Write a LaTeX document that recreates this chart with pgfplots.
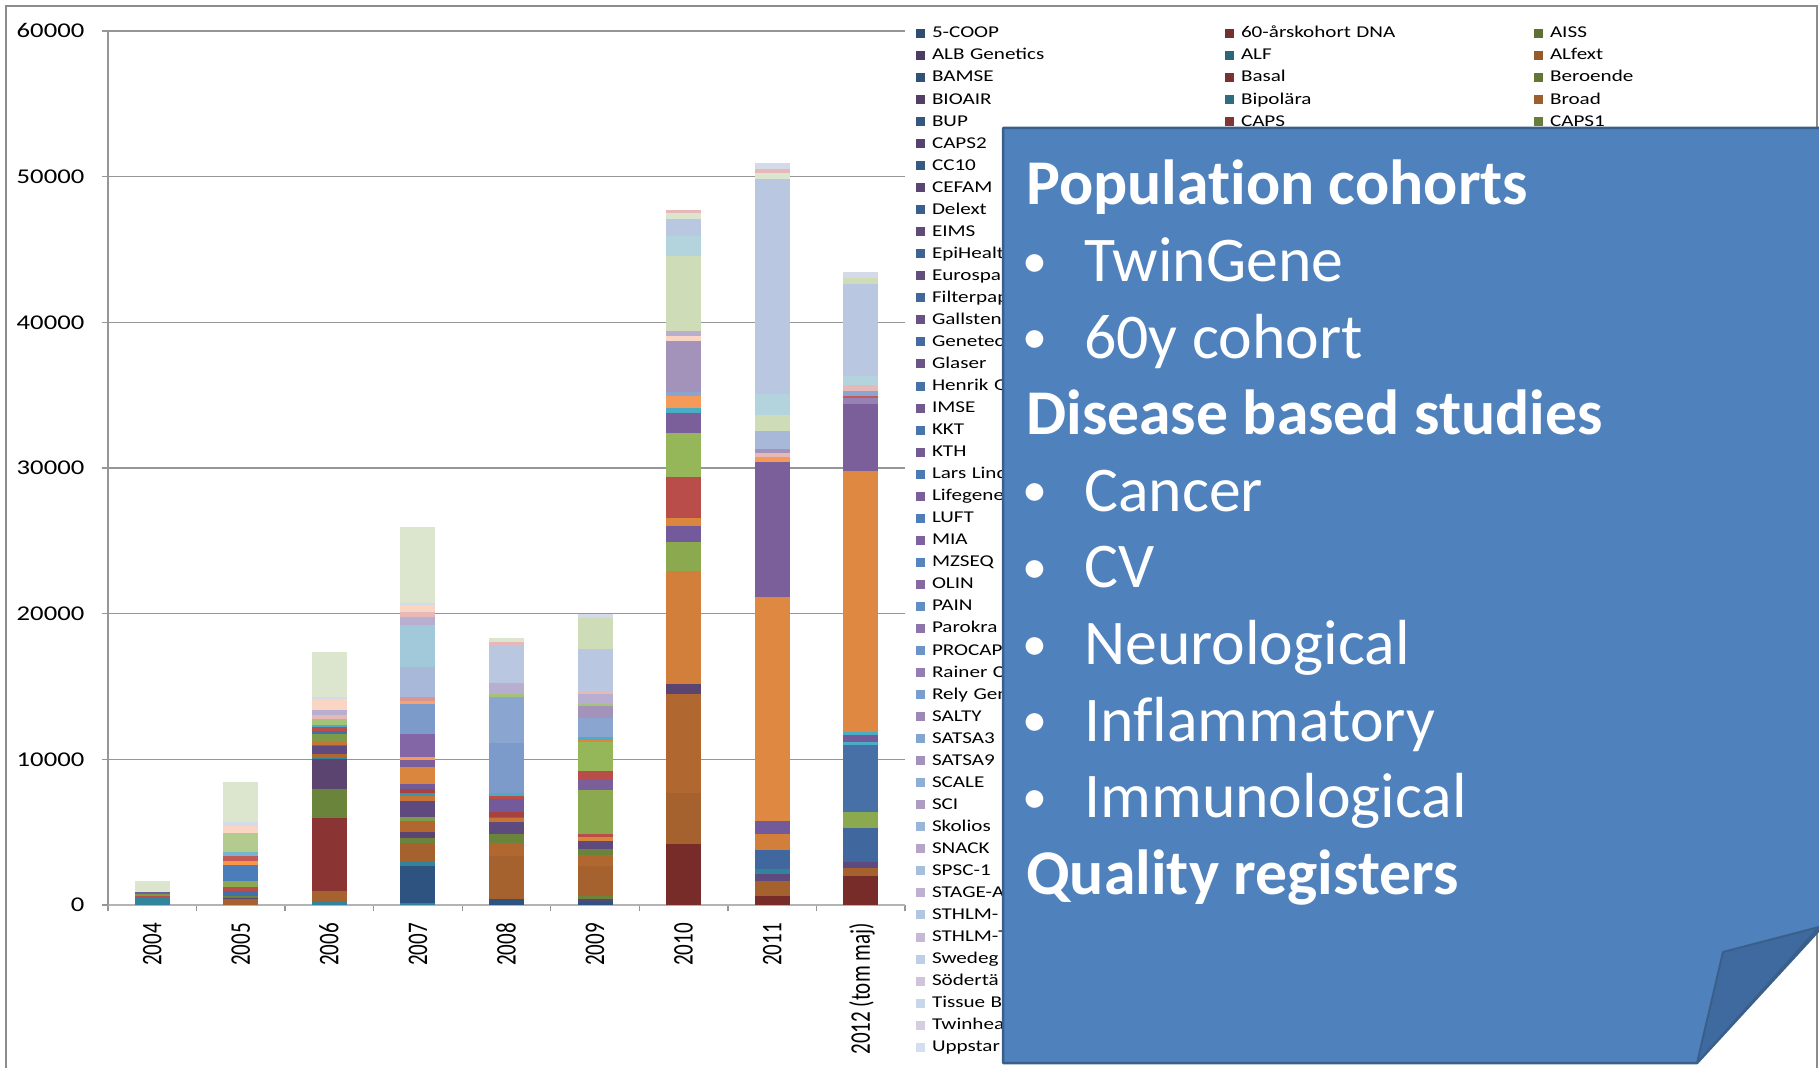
\documentclass[border=0pt]{standalone}
\usepackage{pgfplots}
\pgfplotsset{compat=1.18}
\usepackage{fontspec}
\setmainfont{Carlito}[Ligatures=NoCommon]
\newfontfamily\tickfont[FakeStretch=1.27]{Carlito}
\newfontfamily\xlabfont[FakeStretch=0.74]{Carlito}
\newfontfamily\legfont[FakeStretch=1.28]{Carlito}

% Excel accents
\definecolor{accB}{HTML}{4F81BD}
\definecolor{accR}{HTML}{C0504D}
\definecolor{accG}{HTML}{9BBB59}
\definecolor{accP}{HTML}{8064A2}
\definecolor{accA}{HTML}{4BACC6}
\definecolor{accO}{HTML}{F79646}
% segment colours
\definecolor{DR}{HTML}{772C2A}
\definecolor{DRb}{HTML}{8A3533}
\definecolor{BR}{HTML}{A5622F}
\definecolor{BRb}{HTML}{B06830}
\definecolor{OB}{HTML}{C57535}
\definecolor{ORD}{HTML}{D17F3A}
\definecolor{OR}{HTML}{DB863F}
\definecolor{OE}{HTML}{DF8841}
\definecolor{OA}{HTML}{F79646}
\definecolor{OL}{HTML}{F59A58}
\definecolor{OLL}{HTML}{F7A46A}
\definecolor{TL}{HTML}{31849B}
\definecolor{TM}{HTML}{3B95AD}
\definecolor{TA}{HTML}{4BACC6}
\definecolor{TLL}{HTML}{75B5CF}
\definecolor{LTA}{HTML}{A2C9DA}
\definecolor{LTB}{HTML}{B3D3DD}
\definecolor{DB}{HTML}{2F5380}
\definecolor{BL}{HTML}{4270A8}
\definecolor{BM}{HTML}{4A7DBA}
\definecolor{BB}{HTML}{41689E}
\definecolor{BC}{HTML}{4670A6}
\definecolor{BLL}{HTML}{7D9BCA}
\definecolor{BLX}{HTML}{8AA5CF}
\definecolor{LBL}{HTML}{A8B8D8}
\definecolor{LBG}{HTML}{BAC7E0}
\definecolor{LBT}{HTML}{D5DAE8}
\definecolor{OV}{HTML}{6B843C}
\definecolor{OVb}{HTML}{7C9A48}
\definecolor{GR}{HTML}{8BAA50}
\definecolor{GRb}{HTML}{95B659}
\definecolor{LG}{HTML}{A5C27A}
\definecolor{LGb}{HTML}{B4CB8F}
\definecolor{VG}{HTML}{DCE6CF}
\definecolor{VGb}{HTML}{CEDCB8}
\definecolor{DP}{HTML}{5B4570}
\definecolor{PU}{HTML}{5E4A7F}
\definecolor{PM}{HTML}{735A9A}
\definecolor{PB}{HTML}{7B5F9A}
\definecolor{PC}{HTML}{8266A5}
\definecolor{LP}{HTML}{9682B5}
\definecolor{LV}{HTML}{A393BA}
\definecolor{LLV}{HTML}{B8AECF}
\definecolor{PCH}{HTML}{FAD5C4}
\definecolor{PK}{HTML}{D99595}
\definecolor{PKL}{HTML}{E6B9B8}
\definecolor{RED}{HTML}{B94D4A}
\definecolor{REDD}{HTML}{A6423F}
\definecolor{REDL}{HTML}{C35A57}
% frame / axis
\definecolor{frame}{HTML}{8C8C8C}
\definecolor{gridc}{HTML}{969696}
\definecolor{axisx}{HTML}{B4B4B4}
\definecolor{boxfill}{HTML}{4F81BD}
\definecolor{boxline}{HTML}{3A5F8B}
\definecolor{flap}{HTML}{3F6A9F}

\pgfplotsset{sq/.style={legend image code/.code={\fill[##1] (0bp,0bp) rectangle (9bp,9bp);}}}
\newcommand{\seg}[3]{\addplot[ybar, bar width=35bp, bar shift=0pt, fill=#3, draw=none, forget plot] coordinates {(#1,#2)};}
\newcommand{\legN}[2]{\addlegendimage{sq,fill=#1,draw=none}\addlegendentry{#2}}
\newcommand{\legE}{\addlegendimage{empty legend}\addlegendentry{}}

\begin{document}
\begin{tikzpicture}[x=1bp,y=1bp]
\useasboundingbox (0,0) rectangle (1819,1067);
\draw[line width=2bp, draw=frame] (6,-5) -- (6,1061) -- (1817,1061) -- (1817,-5);
\begin{axis}[
  at={(108bp,162bp)}, anchor=south west,
  scale only axis, width=797bp, height=874bp,
  xmin=-0.5, xmax=8.5, ymin=0, ymax=60000,
  axis x line*=bottom, axis y line*=left,
  x axis line style={-, draw=axisx, line width=1.8bp},
  y axis line style={-, draw=gridc, line width=1.4bp},
  xtick={0,...,8},
  xticklabels={2004,2005,2006,2007,2008,2009,2010,2011,{2012 (tom maj)}},
  minor xtick={-0.5,0.5,...,8.5},
  ytick={0,10000,...,60000},
  scaled y ticks=false,
  yticklabel style={/pgf/number format/1000 sep={}, /pgf/number format/assume math mode=true,
     font=\tickfont\fontsize{21bp}{25bp}\selectfont, anchor=east, inner sep=0pt, text=black},
  yticklabel shift=17bp,
  xticklabel style={rotate=90, anchor=east, inner sep=0pt, text height=18.2bp, text depth=0pt,
     font=\xlabfont\fontsize{28.4bp}{30bp}\selectfont, text=black},
  xticklabel shift=11.5bp,
  tick align=outside,
  major tick length=6.5bp, minor tick length=6bp,
  major x tick style={draw=none},
  tick style={draw=gridc, line width=1.3bp},
  ymajorgrids, major grid style={draw=gridc, line width=1.2bp},
  legend columns=3,
  legend style={at={(1.0138,1.00927)}, anchor=north west, draw=none, fill=none,
     inner sep=0pt, outer sep=0pt, row sep=0pt,
     font=\legfont\fontsize{16.5bp}{20bp}\selectfont,
     cells={anchor=base west},
     nodes={inner sep=0pt, text height=15bp, text depth=7.04bp, text width=293bp, align=left},
     /tikz/every odd column/.append style={column sep=7bp}},
]
% ---- legend (row-major, 3 columns) ----
\legN{accB!60!black}{5-COOP}\legN{accR!60!black}{60-årskohort DNA}\legN{accG!60!black}{AISS}
\legN{accP!60!black}{ALB Genetics}\legN{accA!60!black}{ALF}\legN{accO!60!black}{ALfext}
\legN{accB!63!black}{BAMSE}\legN{accR!63!black}{Basal}\legN{accG!63!black}{Beroende}
\legN{accP!63!black}{BIOAIR}\legN{accA!63!black}{Bipolära}\legN{accO!63!black}{Broad}
\legN{accB!67!black}{BUP}\legN{accR!67!black}{CAPS}\legN{accG!67!black}{CAPS1}
\legN{accP!67!black}{CAPS2}\legE\legE
\legN{accB!70!black}{CC10}\legE\legE
\legN{accP!70!black}{CEFAM}\legE\legE
\legN{accB!74!black}{Delext}\legE\legE
\legN{accP!74!black}{EIMS}\legE\legE
\legN{accB!77!black}{EpiHealt}\legE\legE
\legN{accP!77!black}{Eurospa}\legE\legE
\legN{accB!81!black}{Filterpap}\legE\legE
\legN{accP!81!black}{Gallsten}\legE\legE
\legN{accB!84!black}{Genetec}\legE\legE
\legN{accP!84!black}{Glaser}\legE\legE
\legN{accB!88!black}{Henrik G}\legE\legE
\legN{accP!88!black}{IMSE}\legE\legE
\legN{accB!91!black}{KKT}\legE\legE
\legN{accP!91!black}{KTH}\legE\legE
\legN{accB!95!black}{Lars Lind}\legE\legE
\legN{accP!95!black}{Lifegene}\legE\legE
\legN{accB!98!black}{LUFT}\legE\legE
\legN{accP!98!black}{MIA}\legE\legE
\legN{accB!97!white}{MZSEQ}\legE\legE
\legN{accP!97!white}{OLIN}\legE\legE
\legN{accB!90!white}{PAIN}\legE\legE
\legN{accP!90!white}{Parokra}\legE\legE
\legN{accB!84!white}{PROCAP}\legE\legE
\legN{accP!84!white}{Rainer C}\legE\legE
\legN{accB!77!white}{Rely Gen}\legE\legE
\legN{accP!77!white}{SALTY}\legE\legE
\legN{accB!71!white}{SATSA3}\legE\legE
\legN{accP!71!white}{SATSA9}\legE\legE
\legN{accB!64!white}{SCALE}\legE\legE
\legN{accP!64!white}{SCI}\legE\legE
\legN{accB!58!white}{Skolios}\legE\legE
\legN{accP!58!white}{SNACK}\legE\legE
\legN{accB!51!white}{SPSC-1}\legE\legE
\legN{accP!51!white}{STAGE-A}\legE\legE
\legN{accB!45!white}{STHLM-}\legE\legE
\legN{accP!45!white}{STHLM-T}\legE\legE
\legN{accB!38!white}{Swedeg}\legE\legE
\legN{accP!38!white}{Södertä}\legE\legE
\legN{accB!32!white}{Tissue B}\legE\legE
\legN{accP!32!white}{Twinhea}\legE\legE
\legN{accB!25!white}{Uppstar}\legE\legE
% ---- bars: cumulative tops, drawn from top segment down ----
% 2004
\seg{0}{1620}{VG}\seg{0}{892}{PM}\seg{0}{760}{OVb}\seg{0}{618}{RED}\seg{0}{458}{TL}
% 2005
\seg{1}{8470}{VG}\seg{1}{5697}{LBT}\seg{1}{5400}{PCH}\seg{1}{4919}{LGb}\seg{1}{3638}{TLL}
\seg{1}{3340}{REDL}\seg{1}{3020}{OA}\seg{1}{2723}{BM}\seg{1}{1647}{GR}\seg{1}{1236}{RED}
\seg{1}{961}{BL}\seg{1}{618}{OV}\seg{1}{500}{DP}\seg{1}{389}{BR}
% 2006
\seg{2}{17370}{VG}\seg{2}{14300}{LBT}\seg{2}{14140}{PCH}\seg{2}{13385}{LLV}\seg{2}{13065}{PKL}
\seg{2}{12767}{LG}\seg{2}{12378}{TA}\seg{2}{12241}{RED}\seg{2}{11943}{BL}\seg{2}{11760}{OVb}
\seg{2}{11211}{OB}\seg{2}{11005}{BL}\seg{2}{10914}{PU}\seg{2}{10342}{BRb}\seg{2}{10090}{TL}
\seg{2}{9998}{DP}\seg{2}{7939}{OV}\seg{2}{5995}{DRb}\seg{2}{961}{BR}\seg{2}{275}{TL}
% 2007
\seg{3}{25970}{VG}\seg{3}{20706}{LBT}\seg{3}{20569}{PCH}\seg{3}{20111}{PKL}\seg{3}{19791}{LLV}
\seg{3}{19196}{LTA}\seg{3}{16359}{LBL}\seg{3}{14300}{PK}\seg{3}{14026}{OLL}\seg{3}{13797}{BLL}
\seg{3}{11715}{PC}\seg{3}{10136}{OL}\seg{3}{9953}{PB}\seg{3}{9495}{OR}\seg{3}{8283}{PM}
\seg{3}{7985}{REDD}\seg{3}{7711}{TM}\seg{3}{7482}{OB}\seg{3}{7139}{PU}\seg{3}{6063}{OVb}
\seg{3}{5766}{BRb}\seg{3}{5034}{DP}\seg{3}{4576}{OV}\seg{3}{4279}{BR}\seg{3}{2974}{TL}
\seg{3}{2677}{DB}\seg{3}{114}{TL}
% 2008
\seg{4}{18304}{VG}\seg{4}{18052}{PKL}\seg{4}{17846}{LBG}\seg{4}{15261}{LLV}\seg{4}{14483}{LG}
\seg{4}{14300}{BLX}\seg{4}{11097}{BLL}\seg{4}{7688}{TA}\seg{4}{7482}{RED}\seg{4}{7299}{PM}
\seg{4}{6406}{REDD}\seg{4}{6063}{TL}\seg{4}{5949}{OB}\seg{4}{5697}{PU}\seg{4}{4896}{OV}
\seg{4}{4279}{BRb}\seg{4}{3363}{BR}\seg{4}{389}{DB}
% 2009
\seg{5}{19950}{LBT}\seg{5}{19677}{VGb}\seg{5}{17549}{LBG}\seg{5}{14689}{PKL}\seg{5}{14506}{LLV}
\seg{5}{13774}{LG}\seg{5}{13660}{LV}\seg{5}{12836}{BLX}\seg{5}{11509}{TA}\seg{5}{11326}{OR}
\seg{5}{11188}{GRb}\seg{5}{9175}{RED}\seg{5}{8603}{PB}\seg{5}{7894}{GR}\seg{5}{4851}{RED}
\seg{5}{4668}{OR}\seg{5}{4393}{PU}\seg{5}{3867}{OV}\seg{5}{3409}{BRb}\seg{5}{2677}{BR}
\seg{5}{618}{OV}\seg{5}{400}{DP}\seg{5}{200}{DB}
% 2010
\seg{6}{47700}{PKL}\seg{6}{47490}{VG}\seg{6}{47112}{LBG}\seg{6}{45948}{LTB}\seg{6}{44566}{VGb}
\seg{6}{39375}{LLV}\seg{6}{39060}{PCH}\seg{6}{38684}{LV}\seg{6}{35225}{BLX}\seg{6}{34910}{OL}
\seg{6}{34092}{TA}\seg{6}{33746}{PB}\seg{6}{32394}{GRb}\seg{6}{29374}{RED}\seg{6}{26544}{OR}
\seg{6}{26040}{PM}\seg{6}{24908}{GR}\seg{6}{22960}{ORD}\seg{6}{15190}{DP}\seg{6}{14467}{BRb}
\seg{6}{7674}{BR}\seg{6}{4200}{DR}
% 2011
\seg{7}{50950}{LBT}\seg{7}{50500}{PKL}\seg{7}{50266}{VG}\seg{7}{49829}{LBG}\seg{7}{35078}{LTB}
\seg{7}{33634}{VGb}\seg{7}{32558}{LBL}\seg{7}{31282}{LV}\seg{7}{31000}{PKL}\seg{7}{30750}{OL}
\seg{7}{30442}{PB}\seg{7}{21134}{OE}
\seg{7}{5746}{PM}\seg{7}{4906}{ORD}\seg{7}{3763}{BB}\seg{7}{2486}{TL}\seg{7}{2150}{PU}
\seg{7}{1646}{BR}\seg{7}{605}{DR}
% 2012 (tom maj)
\seg{8}{43470}{LBT}\seg{8}{43027}{VGb}\seg{8}{42645}{LBG}\seg{8}{36340}{LTB}\seg{8}{35695}{PKL}
\seg{8}{35255}{BLX}\seg{8}{34962}{REDL}\seg{8}{34815}{LP}\seg{8}{34404}{PB}\seg{8}{29770}{OE}
\seg{8}{11908}{TA}\seg{8}{11703}{PM}\seg{8}{11204}{TA}\seg{8}{11000}{BC}\seg{8}{6365}{GR}
\seg{8}{5309}{BB}\seg{8}{2933}{PU}\seg{8}{2552}{BR}\seg{8}{1965}{DR}
\end{axis}
% ---- callout box ----
\draw[fill=boxfill, draw=boxline, line width=2.5bp, line join=round]
  (1003,939) -- (1822,939) -- (1822,140) -- (1697,4) -- (1003,4) -- cycle;
\draw[fill=flap, draw=boxline, line width=2bp, line join=round]
  (1697,4) -- (1723,115) -- (1819,140) -- cycle;
\begin{scope}[every node/.style={anchor=base west, inner sep=0pt, text=white,
    font=\fontsize{63.7bp}{76.6bp}\selectfont},
    bul/.style={font=\fontsize{50bp}{60bp}\selectfont}]
\node at (1026,862) {\bfseries Population cohorts};
\node[bul] at (1022,789.9) {•}; \node at (1084,785.4) {TwinGene};
\node[bul] at (1022,713.3) {•}; \node at (1084,708.8) {60y cohort};
\node at (1026,632.2) {\bfseries Disease based studies};
\node[bul] at (1022,560.1) {•}; \node at (1084,555.6) {Cancer};
\node[bul] at (1022,483.5) {•}; \node at (1084,479) {CV};
\node[bul] at (1022,406.9) {•}; \node at (1084,402.4) {Neurological};
\node[bul] at (1022,330.3) {•}; \node at (1084,325.8) {Inflammatory};
\node[bul] at (1022,253.7) {•}; \node at (1084,249.2) {Immunological};
\node at (1026,172.6) {\bfseries Quality registers};
\end{scope}
\end{tikzpicture}
\end{document}
